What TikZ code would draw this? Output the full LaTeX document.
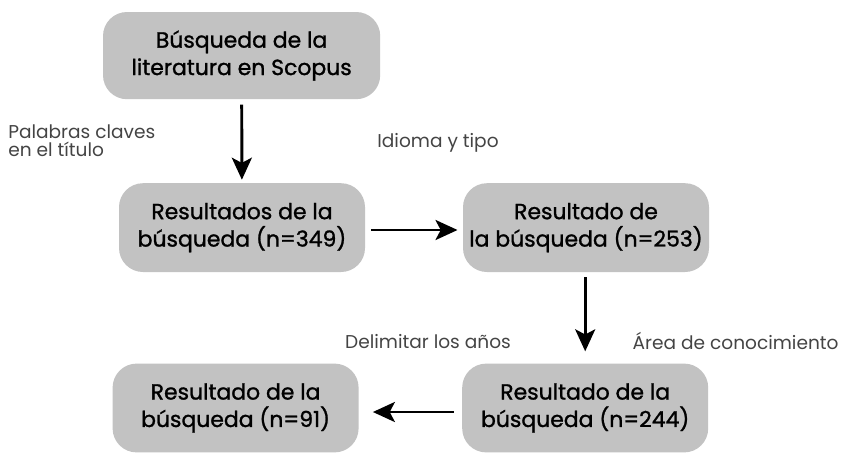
\documentclass[tikz,border=0pt]{standalone}
\usepackage{fontspec}
\setmainfont{Poppins}
\newfontfamily\cajafont[FakeBold=1.2]{Poppins}
\usetikzlibrary{arrows.meta}
\definecolor{boxgray}{HTML}{C2C2C2}
\definecolor{labelgray}{HTML}{444444}
\tikzset{
    paso/.style={fill=boxgray, rounded corners=0.6cm, minimum width=6.15cm, minimum height=2.22cm, align=center, font=\cajafont\fontsize{15.6}{19.5}\selectfont, text=black},
    nota/.style={text=labelgray, font=\fontsize{13.2}{12.5}\selectfont},
    flecha/.style={-{Stealth[length=0.55cm,width=0.5cm,inset=0.13cm]}, line width=2.1pt}
}
\begin{document}
\begin{tikzpicture}
    \useasboundingbox (0,0) rectangle (21.075,-11.425);
    % boxes
    \node[paso, minimum width=6.93cm, minimum height=2.18cm] (busqueda) at (6.04,-1.39) {Búsqueda de la\\literatura en Scopus};
    \node[paso] (res349) at (6.05,-5.69) {Resultados de la\\búsqueda (n=349)};
    \node[paso] (res253) at (14.65,-5.69) {Resultado de\\la búsqueda (n=253)};
    \node[paso] (res244) at (14.63,-10.2) {Resultado de la\\búsqueda (n=244)};
    \node[paso] (res91) at (5.89,-10.2) {Resultado de la\\búsqueda (n=91)};
    % labels
    \node[nota, anchor=north west, align=left, inner sep=0pt] (palabras) at (0.2,-3.12) {Palabras claves\\en el título};
    \node[nota] (idioma) at (10.95,-3.58) {Idioma y tipo};
    \node[nota] (anios) at (10.7,-8.53) {Delimitar los años};
    \node[nota] (area) at (18.39,-8.53) {Área de conocimiento};
    % arrows
    \draw[flecha, shorten <=0.13cm, shorten >=0.08cm] (busqueda) -- (res349);
    \draw[flecha, shorten <=0.15cm, shorten >=0.13cm] (res349.east |- 0,-5.75) -- (res253.west |- 0,-5.75);
    \draw[flecha, shorten <=0.13cm, shorten >=0.3cm] (res253.south -| 14.63,0) -- (res244.north);
    \draw[flecha, shorten <=0.2cm, shorten >=0.35cm] (res244.west |- 0,-10.3) -- (res91.east |- 0,-10.3);
\end{tikzpicture}
\end{document}
